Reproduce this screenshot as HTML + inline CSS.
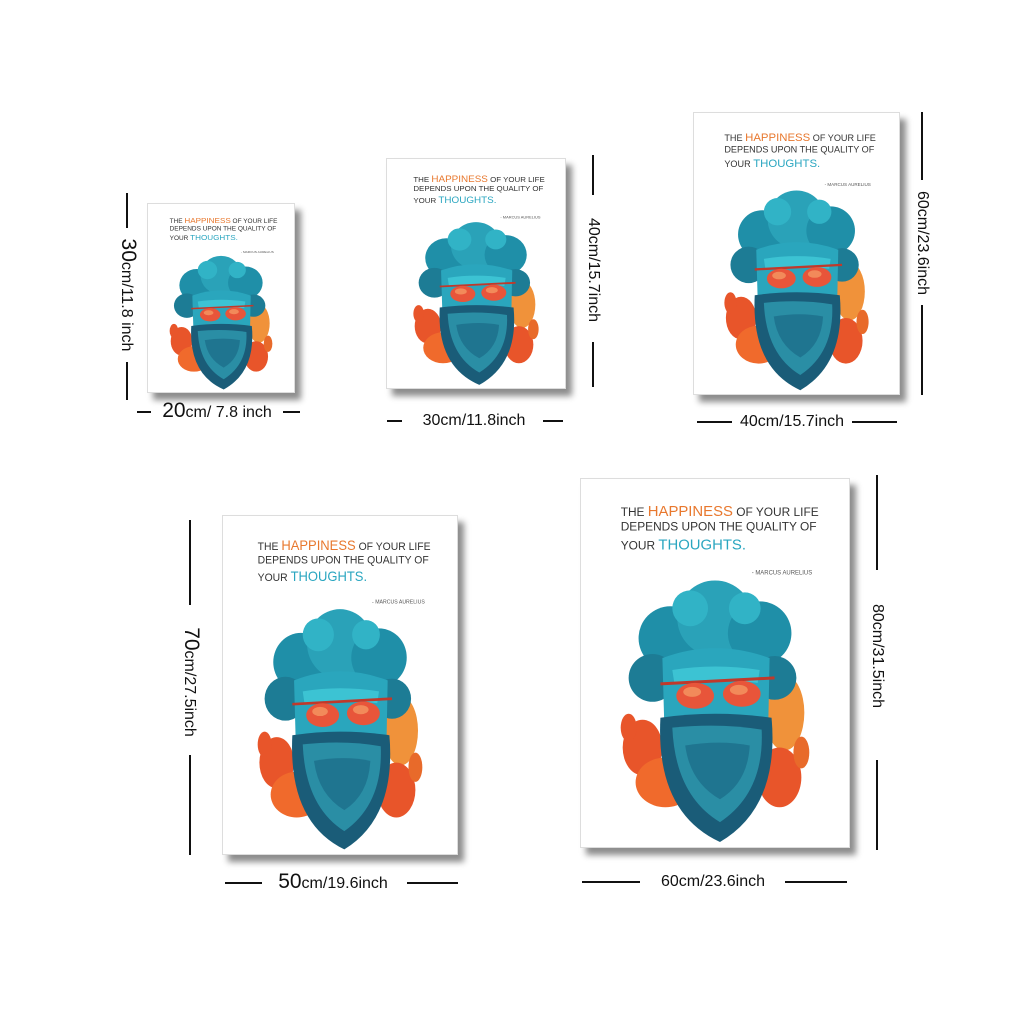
<!DOCTYPE html>
<html><head><meta charset="utf-8"><style>
body{margin:0;width:1024px;height:1024px;background:#fff;position:relative;overflow:hidden;font-family:"Liberation Sans",sans-serif;}
.poster{position:absolute;background:#fff;box-shadow:6px 7px 6px rgba(0,0,0,0.45);border:1px solid #ddd;box-sizing:border-box}
.poster svg{width:100%;height:100%;display:block}
.ln{position:absolute;background:#111}
.lbl{position:absolute;color:#111;font-size:16px;white-space:nowrap;line-height:20px}
.lbl b{font-size:21px;font-weight:normal}
.rot{transform:translate(-50%,-50%) rotate(90deg);transform-origin:center}
.hz{transform:translate(-50%,-50%)}
</style></head><body>
<template id="art"><svg viewBox="0 0 270 370" preserveAspectRatio="none" xmlns="http://www.w3.org/2000/svg">
<text x="40" y="37" font-family="Liberation Sans,sans-serif" font-size="12" fill="#333">THE <tspan fill="#e8782e" font-size="15">HAPPINESS</tspan> OF YOUR LIFE</text>
<text x="40" y="52" font-family="Liberation Sans,sans-serif" font-size="12" fill="#333">DEPENDS UPON THE QUALITY OF</text>
<text x="40" y="71" font-family="Liberation Sans,sans-serif" font-size="12" fill="#333">YOUR <tspan fill="#2aa6c0" font-size="15">THOUGHTS.</tspan></text>
<text x="172" y="96" font-family="Liberation Sans,sans-serif" font-size="6" fill="#555">- MARCUS AURELIUS</text>
<g>
<ellipse cx="62" cy="270" rx="20" ry="28" fill="#e8552a"/>
<ellipse cx="85" cy="305" rx="30" ry="25" fill="#f06a2c"/>
<ellipse cx="205" cy="235" rx="20" ry="38" fill="#f0923a"/>
<ellipse cx="200" cy="300" rx="22" ry="30" fill="#e8552a"/>
<ellipse cx="48" cy="250" rx="8" ry="14" fill="#e8552a"/>
<ellipse cx="222" cy="275" rx="8" ry="16" fill="#e86a2a"/>
<circle cx="90" cy="160" r="32" fill="#1f8fa8"/>
<circle cx="135" cy="140" r="38" fill="#2aa2b8"/>
<circle cx="180" cy="155" r="32" fill="#1f8fa8"/>
<circle cx="72" cy="200" r="24" fill="#1d7c95"/>
<circle cx="195" cy="200" r="22" fill="#1d7c95"/>
<circle cx="110" cy="130" r="18" fill="#31b3c6"/>
<circle cx="165" cy="130" r="16" fill="#31b3c6"/>
<path d="M82 180 Q135 160 190 180 L188 280 Q135 350 85 285 Z" fill="#2aa6bd"/>
<path d="M92 192 Q135 185 180 192 L178 205 Q135 200 94 205 Z" fill="#3cc3d3"/>
<path d="M80 240 Q135 232 192 240 Q200 330 140 365 Q75 335 80 240Z" fill="#1a5c78"/>
<path d="M92 250 Q140 245 182 252 Q185 315 140 345 Q95 318 92 250Z" fill="#2a8ea5"/>
<path d="M105 268 Q140 262 170 268 Q168 305 140 322 Q110 305 105 268Z" fill="#1f7590"/>
<path d="M80 206 L195 200" stroke="#c0392b" stroke-width="3"/>
<ellipse cx="115" cy="218" rx="19" ry="13" fill="#e8553a"/>
<ellipse cx="162" cy="216" rx="19" ry="13" fill="#e8553a"/>
<ellipse cx="112" cy="214" rx="9" ry="5" fill="#f28a5a"/>
<ellipse cx="159" cy="212" rx="9" ry="5" fill="#f28a5a"/>
</g></svg></template>

<div class="poster" style="left:147px;top:203px;width:148px;height:190px"></div>
<div class="poster" style="left:386px;top:158px;width:180px;height:231px"></div>
<div class="poster" style="left:693px;top:112px;width:207px;height:283px"></div>
<div class="poster" style="left:222px;top:515px;width:236px;height:340px"></div>
<div class="poster" style="left:580px;top:478px;width:270px;height:370px"></div>

<div class="ln" style="left:126px;top:193px;width:2px;height:35px"></div>
<div class="ln" style="left:126px;top:362px;width:2px;height:38px"></div>
<div class="lbl rot" style="left:127px;top:295px"><b>30</b>cm/11.8 inch</div>
<div class="ln" style="left:137px;top:411px;width:14px;height:2px"></div>
<div class="ln" style="left:283px;top:411px;width:17px;height:2px"></div>
<div class="lbl hz" style="left:217px;top:412px"><b>20</b>cm/ 7.8 inch</div>
<div class="ln" style="left:592px;top:155px;width:2px;height:40px"></div>
<div class="ln" style="left:592px;top:342px;width:2px;height:45px"></div>
<div class="lbl rot" style="left:593px;top:270px">40cm/15.7inch</div>
<div class="ln" style="left:387px;top:420px;width:15px;height:2px"></div>
<div class="ln" style="left:543px;top:420px;width:20px;height:2px"></div>
<div class="lbl hz" style="left:474px;top:421px">30cm/11.8inch</div>
<div class="ln" style="left:921px;top:112px;width:2px;height:68px"></div>
<div class="ln" style="left:921px;top:305px;width:2px;height:90px"></div>
<div class="lbl rot" style="left:922px;top:243px">60cm/23.6inch</div>
<div class="ln" style="left:697px;top:421px;width:35px;height:2px"></div>
<div class="ln" style="left:852px;top:421px;width:45px;height:2px"></div>
<div class="lbl hz" style="left:792px;top:422px">40cm/15.7inch</div>
<div class="ln" style="left:189px;top:520px;width:2px;height:85px"></div>
<div class="ln" style="left:189px;top:755px;width:2px;height:100px"></div>
<div class="lbl rot" style="left:190px;top:682px"><b>70</b>cm/27.5inch</div>
<div class="ln" style="left:225px;top:882px;width:37px;height:2px"></div>
<div class="ln" style="left:407px;top:882px;width:51px;height:2px"></div>
<div class="lbl hz" style="left:333px;top:883px"><b>50</b>cm/19.6inch</div>
<div class="ln" style="left:876px;top:475px;width:2px;height:95px"></div>
<div class="ln" style="left:876px;top:760px;width:2px;height:90px"></div>
<div class="lbl rot" style="left:877px;top:656px">80cm/31.5inch</div>
<div class="ln" style="left:582px;top:881px;width:58px;height:2px"></div>
<div class="ln" style="left:785px;top:881px;width:62px;height:2px"></div>
<div class="lbl hz" style="left:713px;top:882px">60cm/23.6inch</div>

<script>
var tpl=document.getElementById('art').innerHTML;
document.querySelectorAll('.poster').forEach(function(p){p.innerHTML=tpl;});
</script>
</body></html>
